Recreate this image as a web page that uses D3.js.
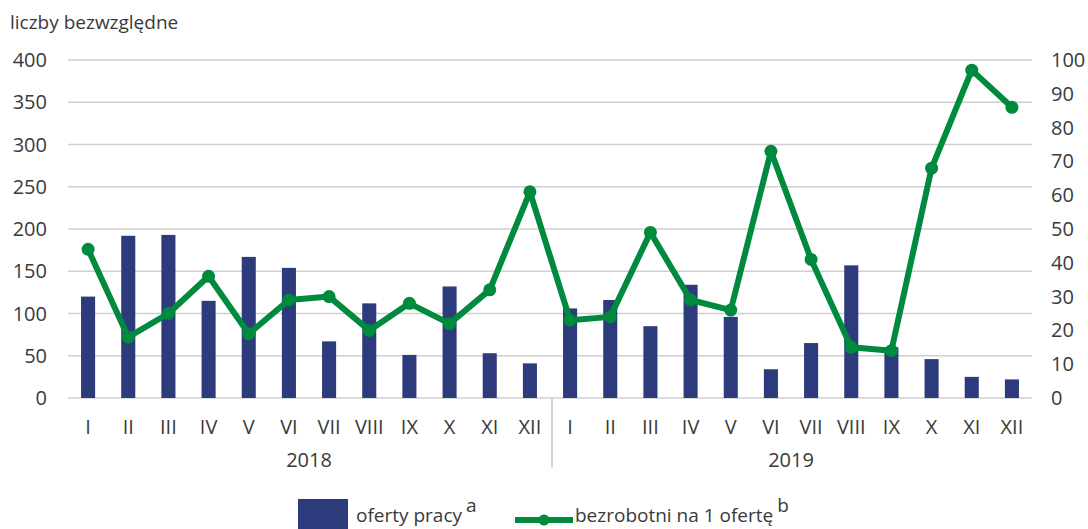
<!DOCTYPE html>
<html>
<head>
<meta charset="utf-8">
<script src="https://cdn.jsdelivr.net/npm/d3@7"></script>
<style>
  body { margin: 0; background: #fff; }
  svg { display: block; font-family: "Open Sans", "Noto Sans", sans-serif; }
</style>
</head>
<body>
<svg id="chart" width="1088" height="529"></svg>
<script>
const years = ["2018", "2019"];
const months = ["I","II","III","IV","V","VI","VII","VIII","IX","X","XI","XII"];
const oferty2018 = [120, 192, 193, 115, 167, 154, 67, 112, 51, 132, 53, 41];
const oferty2019 = [106, 116, 85, 134, 96, 34, 65, 157, 60, 46, 25, 22];
const bezrobotni2018 = [44, 18, 25, 36, 19, 29, 30, 20, 28, 22, 32, 61];
const bezrobotni2019 = [23, 24, 49, 29, 26, 73, 41, 15, 14, 68, 97, 86];
const leftTicks = [0, 50, 100, 150, 200, 250, 300, 350, 400];
const rightTicks = [0, 10, 20, 30, 40, 50, 60, 70, 80, 90, 100];

const rows = [];
years.forEach((y, yi) => {
  const of = yi === 0 ? oferty2018 : oferty2019;
  const bz = yi === 0 ? bezrobotni2018 : bezrobotni2019;
  months.forEach((m, i) => rows.push({key: y + "-" + m, year: y, month: m, oferty: of[i], bezrobotni: bz[i]}));
});

const svg = d3.select("#chart");
const plotLeft = 68, plotRight = 1032, plotTop = 60, plotBottom = 398;
const textColor = "#3a3a3a";
const fs = 20;

const x = d3.scaleBand()
  .domain(rows.map(d => d.key))
  .range([plotLeft, plotRight])
  .paddingInner(0.65)
  .paddingOuter(0.325);
const yL = d3.scaleLinear().domain([0, 400]).range([plotBottom, plotTop]);
const yR = d3.scaleLinear().domain([0, 100]).range([plotBottom, plotTop]);

// gridlines
svg.append("g").selectAll("line")
  .data(leftTicks)
  .join("line")
  .attr("x1", plotLeft).attr("x2", plotRight)
  .attr("y1", d => yL(d)).attr("y2", d => yL(d))
  .attr("stroke", "#cfcfcf")
  .attr("stroke-width", 1.5);

// left axis labels
svg.append("g").selectAll("text")
  .data(leftTicks)
  .join("text")
  .attr("x", 47)
  .attr("y", d => yL(d))
  .attr("dy", "0.35em")
  .attr("text-anchor", "end")
  .attr("fill", textColor)
  .style("font-size", fs + "px")
  .text(d => d);

// right axis labels
svg.append("g").selectAll("text")
  .data(rightTicks)
  .join("text")
  .attr("x", 1051)
  .attr("y", d => yR(d))
  .attr("dy", "0.35em")
  .attr("text-anchor", "start")
  .attr("fill", textColor)
  .style("font-size", fs + "px")
  .text(d => d);

svg.append("text")
  .attr("x", 10).attr("y", 29)
  .attr("fill", textColor)
  .style("font-size", "19px")
  .text("liczby bezwzględne");

// bars
svg.append("g").selectAll("rect")
  .data(rows)
  .join("rect")
  .attr("x", d => x(d.key))
  .attr("width", x.bandwidth())
  .attr("y", d => yL(d.oferty))
  .attr("height", d => plotBottom - yL(d.oferty))
  .attr("fill", "#2d3a7b");

// line
const green = "#008a3e";
const line = d3.line()
  .x(d => x(d.key) + x.bandwidth() / 2)
  .y(d => yR(d.bezrobotni));
svg.append("path")
  .datum(rows)
  .attr("d", line)
  .attr("fill", "none")
  .attr("stroke", green)
  .attr("stroke-width", 6)
  .attr("stroke-linejoin", "round");
svg.append("g").selectAll("circle")
  .data(rows)
  .join("circle")
  .attr("cx", d => x(d.key) + x.bandwidth() / 2)
  .attr("cy", d => yR(d.bezrobotni))
  .attr("r", 6.5)
  .attr("fill", green);

// month labels
svg.append("g").selectAll("text")
  .data(rows)
  .join("text")
  .attr("x", d => x(d.key) + x.bandwidth() / 2)
  .attr("y", 427)
  .attr("dy", "0.35em")
  .attr("text-anchor", "middle")
  .attr("fill", textColor)
  .style("font-size", fs + "px")
  .text(d => d.month);

// year labels and separator
const step = x.step();
years.forEach((y, yi) => {
  const first = x(y + "-I") - x.paddingOuter() * step;
  svg.append("text")
    .attr("x", first + step * 6)
    .attr("y", 460)
    .attr("dy", "0.35em")
    .attr("text-anchor", "middle")
    .attr("fill", textColor)
    .style("font-size", fs + "px")
    .text(y);
});
const sepX = x("2019-I") - x.paddingOuter() * step + 2;
svg.append("line")
  .attr("x1", sepX).attr("x2", sepX)
  .attr("y1", plotBottom).attr("y2", 468)
  .attr("stroke", "#c8c8c8")
  .attr("stroke-width", 1.5);

// legend
const lg = svg.append("g");
lg.append("rect")
  .attr("x", 298).attr("y", 499)
  .attr("width", 50).attr("height", 30)
  .attr("fill", "#2d3a7b");
const t1 = lg.append("text")
  .attr("x", 356).attr("y", 522)
  .attr("fill", textColor)
  .style("font-size", "19px");
t1.append("tspan").text("oferty pracy");
t1.append("tspan").attr("dx", 4).attr("dy", -10).text("a");

lg.append("line")
  .attr("x1", 515).attr("x2", 573)
  .attr("y1", 520).attr("y2", 520)
  .attr("stroke", green)
  .attr("stroke-width", 6);
lg.append("circle")
  .attr("cx", 544).attr("cy", 520)
  .attr("r", 5.5)
  .attr("fill", green);
const t2 = lg.append("text")
  .attr("x", 575).attr("y", 522)
  .attr("fill", textColor)
  .style("font-size", "19px");
t2.append("tspan").text("bezrobotni na 1 ofertę");
t2.append("tspan").attr("dx", 4).attr("dy", -10).text("b");
</script>
</body>
</html>
